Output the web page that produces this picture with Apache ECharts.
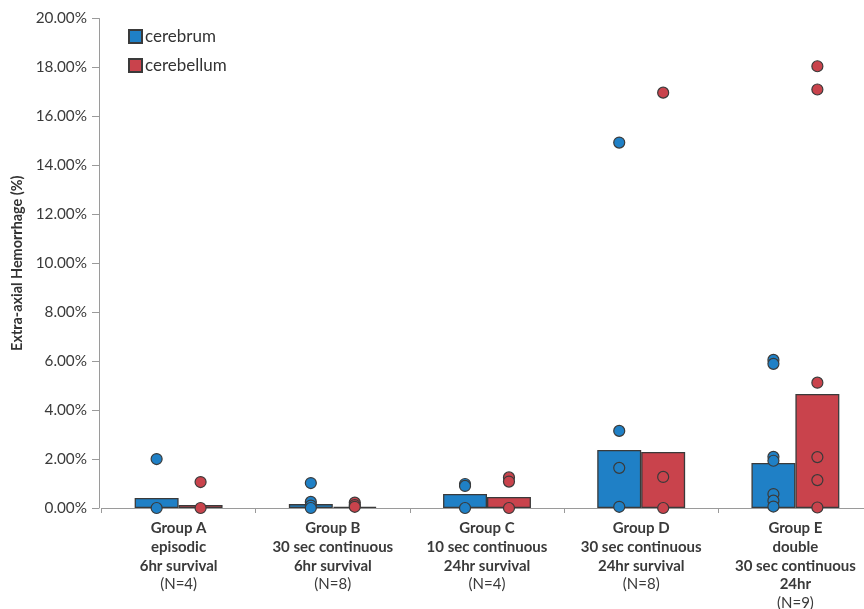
<!DOCTYPE html>
<html>
<head>
<meta charset="utf-8">
<script src="https://cdn.jsdelivr.net/npm/echarts@6/dist/echarts.min.js"></script>
<style>
  html, body { margin: 0; padding: 0; background: #fff; }
  #chart { width: 864px; height: 609px; }
</style>
</head>
<body>
<div id="chart"></div>
<script>
// Group labels (one line per entry) and sample sizes
const groupLines = [
  ['Group A', 'episodic', '6hr survival'],
  ['Group B', '30 sec continuous', '6hr survival'],
  ['Group C', '10 sec continuous', '24hr survival'],
  ['Group D', '30 sec continuous', '24hr survival'],
  ['Group E', 'double', '30 sec continuous', '24hr']
];
const groupN = ['(N=4)', '(N=8)', '(N=4)', '(N=8)', '(N=9)'];
const categories = groupLines.map(l => l[0]);

// Mean extra-axial hemorrhage (%) per group
const cerebrumMean   = [0.41, 0.16, 0.57, 2.37, 1.84];
const cerebellumMean = [0.12, 0.05, 0.45, 2.29, 4.66];

// Individual animals (%) per group
const cerebrumPoints = [
  [2.0, 0.0],
  [1.02, 0.25, 0.1, 0.0],
  [0.98, 0.9, 0.0],
  [14.93, 3.15, 1.64, 0.05],
  [6.05, 5.89, 2.09, 1.93, 0.57, 0.3, 0.06]
];
const cerebellumPoints = [
  [1.06, 0.0],
  [0.22, 0.12, 0.05],
  [1.25, 1.08, 0.0],
  [16.97, 1.27, 0.0],
  [18.05, 17.1, 5.12, 2.08, 1.14, 0.02]
];

// Y axis ticks
const yMin = 0, yMax = 20, yStep = 2;

const BLUE = '#1f80c6';
const RED = '#c9434c';
const EDGE = '#3a3a3a';
const AXIS = '#9a9a9a';
const FONT = 'Lato, "Liberation Sans", sans-serif';
const barFrac = 0.285;           // bar width as a share of the category band
const half = barFrac / 2;        // offset of each bar centre from the band centre

function toXY(groups, shift) {
  const out = [];
  groups.forEach((vals, i) => vals.forEach(v => out.push([i + shift, v])));
  return out;
}

const chart = echarts.init(document.getElementById('chart'), null, { renderer: 'canvas' });
chart.setOption({
  animation: false,
  backgroundColor: '#fff',
  textStyle: { fontFamily: FONT },
  legend: {
    left: 123, top: 23, orient: 'vertical',
    icon: 'rect',
    itemWidth: 13, itemHeight: 13, itemGap: 12,
    data: ['cerebrum', 'cerebellum'],
    textStyle: { fontSize: 17, color: '#333', fontFamily: FONT, padding: [0, 0, 0, -2] }
  },
  grid: {
    left: 101.5, top: 18.5, width: 771, bottom: 101,
    containLabel: false, outerBoundsMode: 'none'
  },
  xAxis: [{
    type: 'category',
    data: categories,
    axisLine: { onZero: false, lineStyle: { color: AXIS, width: 1 } },
    axisTick: { show: true, alignWithLabel: false, interval: 0, length: 5, lineStyle: { color: AXIS } },
    axisLabel: {
      interval: 0, margin: 11,
      formatter: (val, idx) =>
        groupLines[idx].map(s => '{b|' + s + '}').join('\n') + '\n{n|' + groupN[idx] + '}',
      rich: {
        b: { fontSize: 15, fontWeight: 'bold', color: '#3a3a3a', lineHeight: 18.7, fontFamily: FONT },
        n: { fontSize: 15, color: '#3a3a3a', lineHeight: 18.7, fontFamily: FONT }
      }
    }
  }, {
    type: 'value', min: -0.5, max: 4.5, show: false
  }],
  yAxis: {
    type: 'value', min: yMin, max: yMax, interval: yStep,
    offset: 2.5,
    name: 'Extra-axial Hemorrhage (%)',
    nameLocation: 'middle', nameGap: 73,
    nameTextStyle: { fontSize: 14.4, fontWeight: 'bold', color: '#333', fontFamily: FONT },
    axisLine: { show: true, onZero: false, lineStyle: { color: AXIS } },
    axisTick: { show: true, length: 7, lineStyle: { color: AXIS } },
    splitLine: { show: false },
    axisLabel: {
      margin: 12, fontSize: 15.3, color: '#3a3a3a', fontFamily: FONT,
      formatter: v => v.toFixed(2) + '%'
    }
  },
  series: [{
    name: 'cerebrum', type: 'bar', data: cerebrumMean,
    barWidth: (barFrac * 100) + '%', barGap: '0%',
    itemStyle: { color: BLUE, borderColor: EDGE, borderWidth: 1.3 }
  }, {
    name: 'cerebellum', type: 'bar', data: cerebellumMean,
    barWidth: (barFrac * 100) + '%', barGap: '0%',
    itemStyle: { color: RED, borderColor: EDGE, borderWidth: 1.3 }
  }, {
    name: 'cerebrum', type: 'scatter', xAxisIndex: 1, z: 5,
    data: toXY(cerebrumPoints, -half), symbolSize: 11,
    itemStyle: { color: BLUE, borderColor: EDGE, borderWidth: 1.2, opacity: 1 }
  }, {
    name: 'cerebellum', type: 'scatter', xAxisIndex: 1, z: 5,
    data: toXY(cerebellumPoints, half), symbolSize: 11,
    itemStyle: { color: RED, borderColor: EDGE, borderWidth: 1.2, opacity: 1 }
  }]
});
</script>
</body>
</html>
